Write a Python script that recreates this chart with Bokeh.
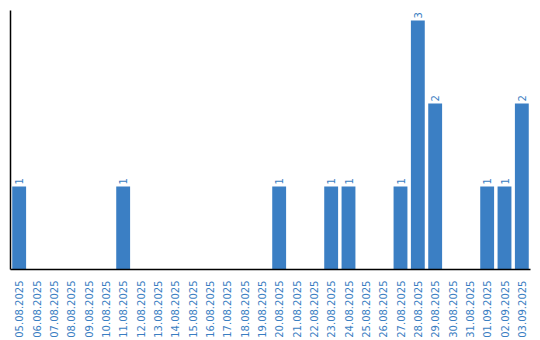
import math
from bokeh.plotting import figure
from bokeh.models import ColumnDataSource, LinearAxis, FixedTicker
from bokeh.core.properties import value
from bokeh.embed import file_html
from bokeh.resources import INLINE

dates = ["05.08.2025", "06.08.2025", "07.08.2025", "08.08.2025", "09.08.2025",
         "10.08.2025", "11.08.2025", "12.08.2025", "13.08.2025", "14.08.2025",
         "15.08.2025", "16.08.2025", "17.08.2025", "18.08.2025", "19.08.2025",
         "20.08.2025", "21.08.2025", "22.08.2025", "23.08.2025", "24.08.2025",
         "25.08.2025", "26.08.2025", "27.08.2025", "28.08.2025", "29.08.2025",
         "30.08.2025", "31.08.2025", "01.09.2025", "02.09.2025", "03.09.2025"]
counts = [1, 0, 0, 0, 0, 0, 1, 0, 0, 0,
          0, 0, 0, 0, 0, 1, 0, 0, 1, 1,
          0, 0, 1, 3, 2, 0, 0, 1, 1, 2]

bar_color = "#3b7fc4"
text_color = "#3a7ec2"

src = ColumnDataSource(dict(x=dates, y=counts))
lab_x = [d for d, c in zip(dates, counts) if c > 0]
lab_y = [c for c in counts if c > 0]
lab_src = ColumnDataSource(dict(x=lab_x, y=lab_y, t=[str(c) for c in lab_y]))

p = figure(x_range=dates, y_range=(0, 3.12), width=540, height=340,
           output_backend="svg", toolbar_location=None,
           min_border_left=10, min_border_right=10, min_border_top=10, min_border_bottom=70,
           y_axis_location=None)
p.outline_line_color = None
p.xgrid.visible = False
p.ygrid.visible = False
p.x_range.range_padding = 0

p.vbar(x="x", top="y", width=0.8, source=src, color=bar_color, line_color=None)
p.text(x="x", y="y", text="t", source=lab_src, angle=math.pi / 2,
       text_align="left", text_baseline="middle", y_offset=-2,
       text_font=value("DejaVu Sans"), text_font_size="10px", text_color=text_color)

xa = p.xaxis[0]
xa.major_label_orientation = math.pi / 2
xa.major_tick_line_color = None
xa.minor_tick_line_color = None
xa.axis_line_color = "black"
xa.axis_line_width = 1.5
xa.major_label_standoff = 5
xa.major_label_text_font = "DejaVu Sans"
xa.major_label_text_font_size = "10px"
xa.major_label_text_color = text_color

ya = LinearAxis(ticker=FixedTicker(ticks=[]), major_tick_line_color=None,
                minor_tick_line_color=None, major_label_text_font_size="0px",
                major_label_standoff=0,
                axis_line_color="black", axis_line_width=1.5)
p.add_layout(ya, "left")

open("out.html", "w").write(file_html(p, INLINE))
